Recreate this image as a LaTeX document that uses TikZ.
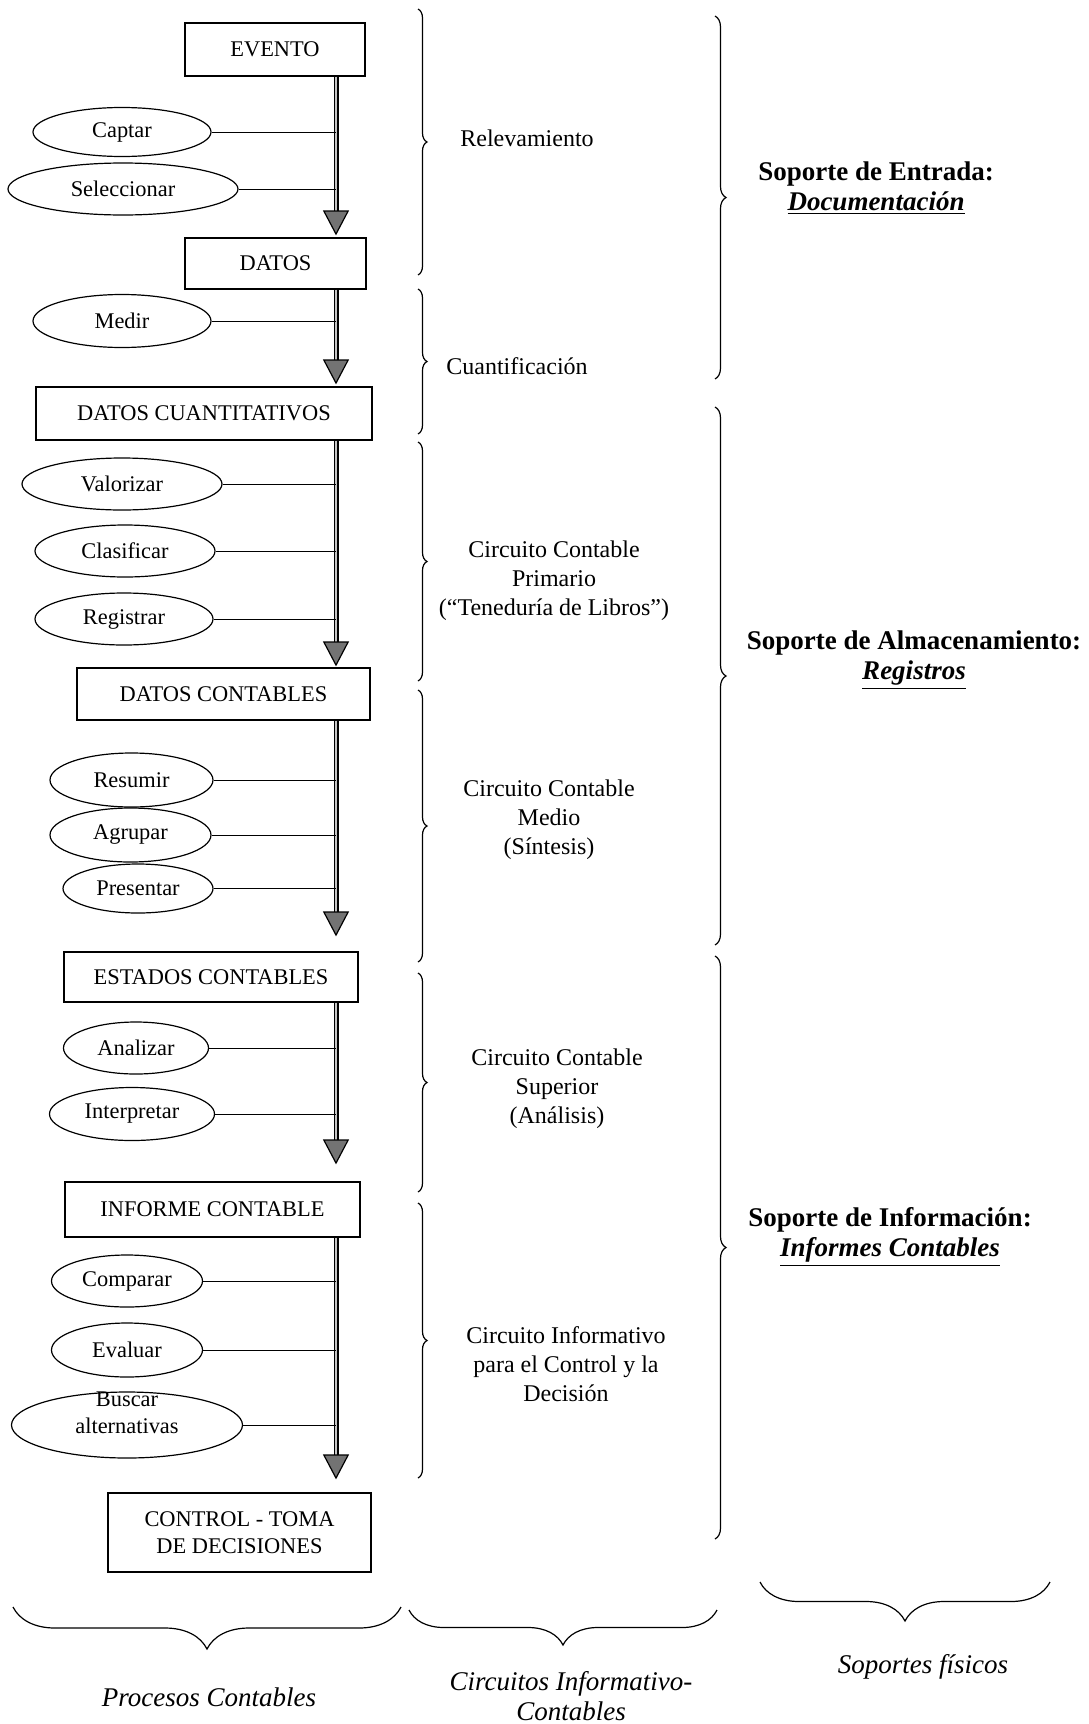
\documentclass[tikz,border=0pt]{standalone}
\usepackage{fontspec}
\setmainfont{Liberation Serif}
\usepackage{tikz}
\usetikzlibrary{shapes.geometric,arrows.meta,decorations.pathreplacing}

\begin{document}
\begin{tikzpicture}[x=0.5pt, y=-0.5pt,
    caja/.style={draw, line width=0.6pt, inner sep=0pt, align=center, font=\fontsize{11.2}{13.5}\selectfont},
    proc/.style={draw, ellipse, line width=0.6pt, inner sep=0pt, align=center, font=\fontsize{11.2}{13.5}\selectfont},
    eje/.style={line width=0.6pt, double=gray!45, double distance=1.3pt, -{Triangle[width=13pt, length=12.5pt, fill=black!55, line width=0.6pt]}},
    rama/.style={line width=0.5pt},
    llave/.style={line width=0.6pt, decorate, decoration={brace, amplitude=#1}},
    llaveb/.style={line width=0.6pt, decorate, decoration={brace, mirror, amplitude=#1}},
    etapa/.style={align=center, font=\fontsize{12}{14.5}\selectfont},
    soporte/.style={align=center, font=\fontsize{13.5}{15}\selectfont\bfseries},
    pie/.style={align=center, font=\fontsize{13.5}{15}\selectfont\itshape}]
    \useasboundingbox (0,0) rectangle (1088,1724);

    % procesos
    \node[caja, minimum width=90pt, minimum height=26.5pt] (evento) at (275,49.5) {EVENTO};
    \node[caja, minimum width=90.5pt, minimum height=25.5pt] (datos) at (275.5,263.5) {DATOS};
    \node[caja, minimum width=168pt, minimum height=26.5pt] (dcuan) at (204,413.5) {DATOS CUANTITATIVOS};
    \node[caja, minimum width=146.5pt, minimum height=26pt] (dcont) at (223.5,694) {DATOS CONTABLES};
    \node[caja, minimum width=147pt, minimum height=25pt] (econt) at (211,977) {ESTADOS CONTABLES};
    \node[caja, minimum width=147.5pt, minimum height=27.5pt] (infor) at (212.5,1209.5) {INFORME CONTABLE};
    \node[caja, minimum width=131.5pt, minimum height=39.5pt] (ctrl) at (239.5,1532.5) {CONTROL - TOMA\\DE DECISIONES};

    \coordinate (ax) at (336,0);

    \foreach \n/\t/\x/\y/\w/\h in {cap/Captar/122/132/89pt/24.5pt, sel/Seleccionar/123/189/115pt/26pt,
        med/Medir/122/321/89pt/26.5pt, val/Valorizar/122/484/100pt/26pt,
        cla/Clasificar/125/551/90pt/26pt, reg/Registrar/124/619/89pt/26pt,
        res/Resumir/131.5/780/81.5pt/27pt, agr/Agrupar/130.5/835/80.5pt/27pt,
        pre/Presentar/138/888.5/75pt/24.5pt, ana/Analizar/136/1048/72.5pt/26pt,
        int/Interpretar/132/1114/82.5pt/26.5pt, com/Comparar/127/1281/75.5pt/26pt,
        eva/Evaluar/127/1350/75.5pt/27pt}
        \node[proc, minimum width=\w, minimum height=\h] (\n) at (\x,\y) {\t};
    \node[proc, minimum width=115.5pt, minimum height=33pt] (bus) at (127,1425) {};
    \node[align=center, inner sep=0pt, font=\fontsize{11.2}{13.5}\selectfont] (bust) at (127,1413) {Buscar\\alternativas};

    \foreach \a/\b/\s in {evento/datos/1pt, datos/dcuan/1pt, dcuan/dcont/0.5pt, dcont/econt/7.5pt, econt/infor/8.5pt, infor/ctrl/6.5pt}
        \draw[eje, shorten >=\s] (\a.south -| ax) -- (\b.north -| ax);

    \foreach \n in {cap,sel,med,val,cla,reg,res,agr,pre,ana,int,com,eva,bus}
        \draw[rama] (\n.east) -- (\n.east -| ax);

    % circuitos
    \foreach \a/\b in {9/275, 289/434, 442/681, 690/962, 973/1192, 1203/1478}
        \draw[llave=4.5pt] (418,\a) -- (418,\b);
    \node[etapa] (relev) at (527,138) {Relevamiento};
    \node[etapa] (cuant) at (517,366) {Cuantificación};
    \node[etapa] (prim) at (554,581) {Circuito Contable\\Primario\\(“Teneduría de Libros”)};
    \node[etapa] (medio) at (549,820) {Circuito Contable\\Medio\\(Síntesis)};
    \node[etapa] (sup) at (557,1089) {Circuito Contable\\Superior\\(Análisis)};
    \node[etapa] (decis) at (566,1364) {Circuito Informativo\\para el Control y la\\Decisión};

    % soportes
    \foreach \a/\b in {16/379, 407/945, 956/1539}
        \draw[llave=5.5pt] (715,\a) -- (715,\b);
    \node[soporte] (entrada) at (876,188) {Soporte de Entrada:\\\underline{\textit{Documentación}}};
    \node[soporte] (almac) at (914,660) {Soporte de Almacenamiento:\\\underline{\textit{Registros}}};
    \node[soporte] (inform) at (890,1237) {Soporte de Información:\\\underline{\textit{Informes Contables}}};

    % columnas
    \draw[llaveb=21pt] (13,1607) -- (401,1607);
    \draw[llaveb=17.5pt] (409,1610) -- (717,1610);
    \draw[llaveb=19.5pt] (760,1582) -- (1050,1582);
    \node[pie] (pcont) at (209,1697) {Procesos Contables};
    \node[pie] (circ) at (571,1696) {Circuitos Informativo-\\Contables};
    \node[pie] (fisic) at (923,1667) {Soportes físicos};
\end{tikzpicture}
\end{document}
